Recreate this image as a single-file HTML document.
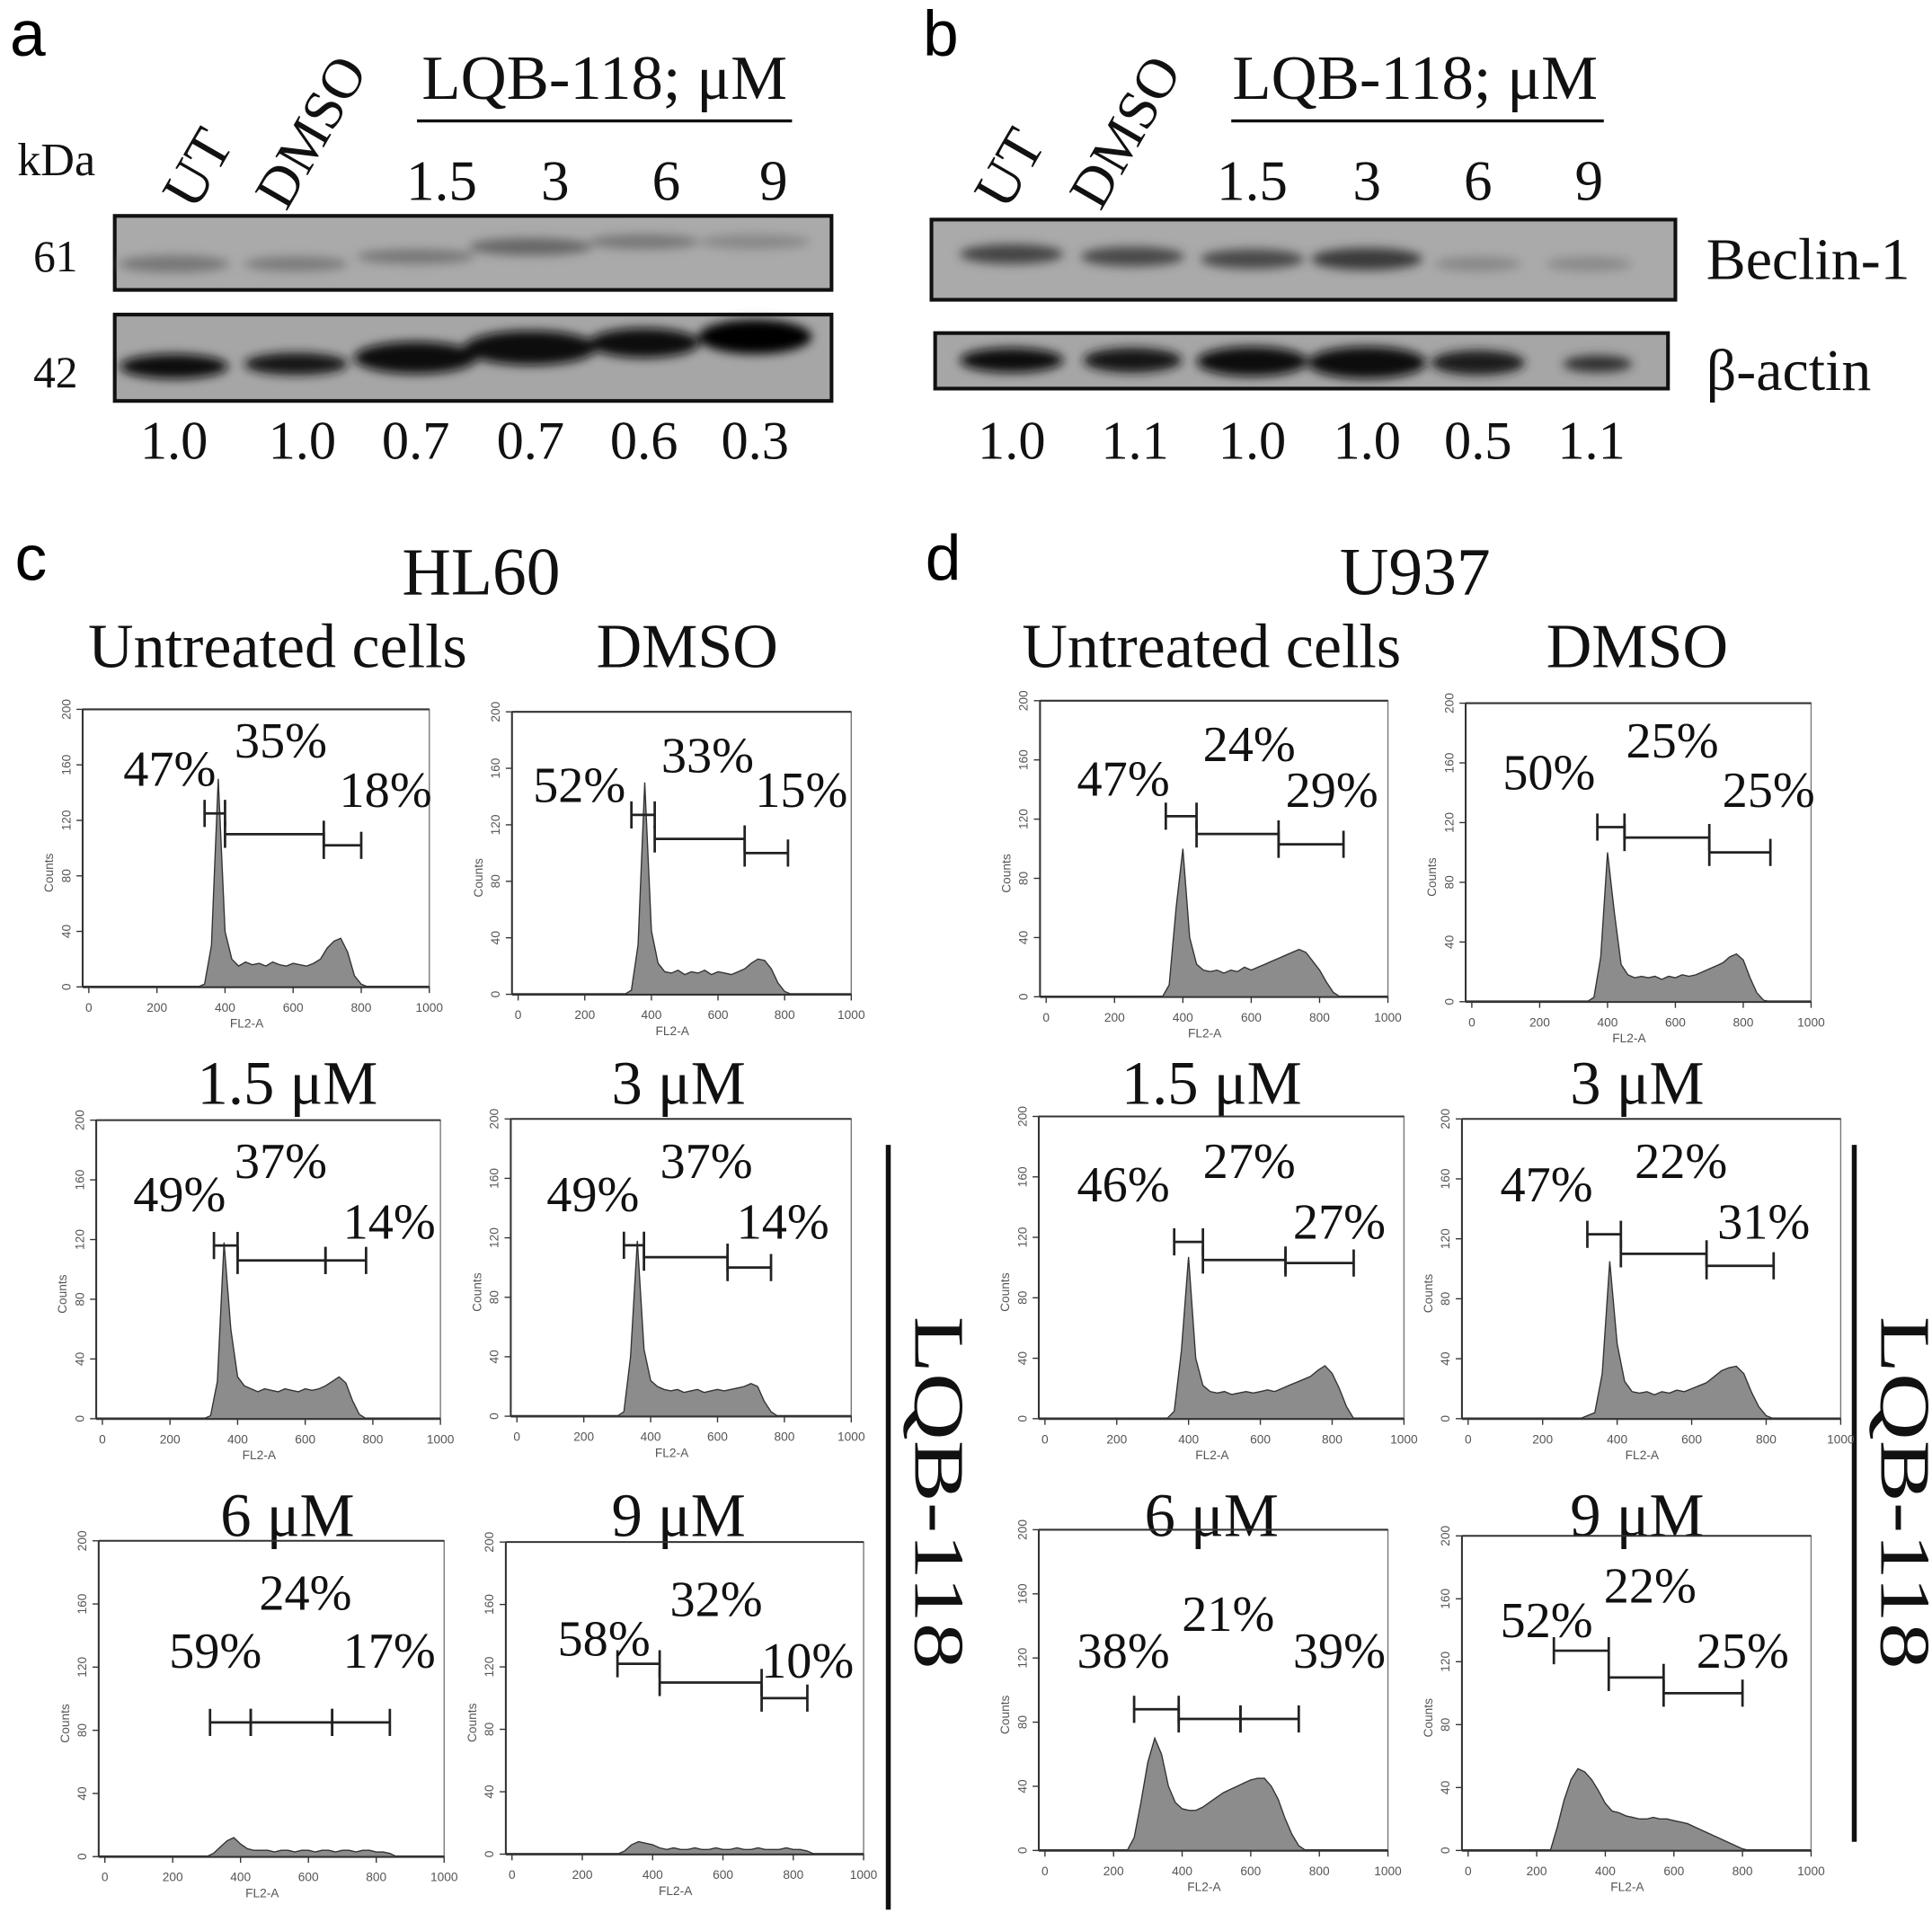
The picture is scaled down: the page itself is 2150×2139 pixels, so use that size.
<!DOCTYPE html>
<html><head><meta charset="utf-8"><style>
html,body{margin:0;padding:0;background:#fff;}
svg{display:block;}
.serif{font-family:"Liberation Serif",serif;fill:#111;}
.sans{font-family:"Liberation Sans",sans-serif;}
.tick{font-family:"Liberation Sans",sans-serif;font-size:10px;fill:#555;}
</style></head><body>
<svg id="fig" width="2150" height="2139" viewBox="0 0 1566 1558" preserveAspectRatio="none" xmlns="http://www.w3.org/2000/svg">
<defs>
<filter id="blur" x="-20%" y="-50%" width="140%" height="200%"><feGaussianBlur stdDeviation="4"/></filter>
</defs>
<text x="8" y="45" class="sans" font-size="52">a</text>
<text x="748" y="45" class="sans" font-size="52">b</text>
<text x="12" y="470" class="sans" font-size="52">c</text>
<text x="750" y="470" class="sans" font-size="52">d</text>

<g>
<text x="14" y="142" class="serif" font-size="38">kDa</text>
<text class="serif" font-size="48" transform="translate(158,172) rotate(-60)">UT</text>
<text class="serif" font-size="46" transform="translate(232,172) rotate(-60)">DMSO</text>
<text x="490" y="80" class="serif" font-size="46" text-anchor="middle" transform="translate(490,80) scale(1.12,1.1) translate(-490,-80)">LQB-118; μM</text>
<line x1="338" y1="98" x2="642" y2="98" stroke="#111" stroke-width="2.5"/>
<g class="serif" font-size="46" text-anchor="middle">
<text x="358" y="162">1.5</text><text x="450" y="162">3</text><text x="540" y="162">6</text><text x="627" y="162">9</text>
</g>
<text x="45" y="220" class="serif" font-size="36" text-anchor="middle">61</text>
<text x="45" y="314" class="serif" font-size="36" text-anchor="middle">42</text>
<rect x="93" y="175" width="581" height="60" fill="#aaa" stroke="#111" stroke-width="3"/>
<rect x="93" y="255" width="581" height="70" fill="#a6a6a6" stroke="#111" stroke-width="3"/>
<g filter="url(#blur)">
<ellipse cx="141" cy="214" rx="45" ry="7" fill="#777"/>
<ellipse cx="240" cy="214" rx="42" ry="6" fill="#7a7a7a"/>
<ellipse cx="337" cy="208" rx="48" ry="6" fill="#777"/>
<ellipse cx="430" cy="200" rx="50" ry="7" fill="#666"/>
<ellipse cx="522" cy="196" rx="45" ry="6" fill="#777"/>
<ellipse cx="612" cy="196" rx="45" ry="6" fill="#888"/>
<ellipse cx="141" cy="297" rx="44" ry="10" fill="#111"/>
<ellipse cx="240" cy="295" rx="42" ry="9" fill="#151515"/>
<ellipse cx="337" cy="290" rx="50" ry="13" fill="#0d0d0d"/>
<ellipse cx="430" cy="282" rx="54" ry="14" fill="#0a0a0a"/>
<ellipse cx="522" cy="278" rx="45" ry="12" fill="#0d0d0d"/>
<ellipse cx="612" cy="273" rx="46" ry="14" fill="#050505"/>
</g>
<g class="serif" font-size="44" text-anchor="middle">
<text x="141" y="372">1.0</text><text x="245" y="372">1.0</text><text x="337" y="372">0.7</text><text x="430" y="372">0.7</text><text x="522" y="372">0.6</text><text x="612" y="372">0.3</text>
</g>
</g>

<g>
<text class="serif" font-size="48" transform="translate(816,172) rotate(-60)">UT</text>
<text class="serif" font-size="46" transform="translate(892,172) rotate(-60)">DMSO</text>
<text x="1147" y="80" class="serif" font-size="46" text-anchor="middle" transform="translate(1147,80) scale(1.12,1.1) translate(-1147,-80)">LQB-118; μM</text>
<line x1="998" y1="98" x2="1300" y2="98" stroke="#111" stroke-width="2.5"/>
<g class="serif" font-size="46" text-anchor="middle">
<text x="1015" y="162">1.5</text><text x="1108" y="162">3</text><text x="1198" y="162">6</text><text x="1288" y="162">9</text>
</g>
<rect x="755" y="178" width="603" height="65" fill="#aaa" stroke="#111" stroke-width="3"/>
<rect x="758" y="270" width="594" height="45" fill="#a6a6a6" stroke="#111" stroke-width="3"/>
<g filter="url(#blur)">
<ellipse cx="820" cy="206" rx="42" ry="8" fill="#444"/>
<ellipse cx="918" cy="208" rx="42" ry="8" fill="#4a4a4a"/>
<ellipse cx="1015" cy="210" rx="42" ry="8" fill="#4a4a4a"/>
<ellipse cx="1108" cy="210" rx="45" ry="9" fill="#3a3a3a"/>
<ellipse cx="1198" cy="214" rx="35" ry="6" fill="#888"/>
<ellipse cx="1288" cy="214" rx="35" ry="6" fill="#8a8a8a"/>
<ellipse cx="820" cy="292" rx="42" ry="10" fill="#111"/>
<ellipse cx="918" cy="292" rx="40" ry="10" fill="#151515"/>
<ellipse cx="1015" cy="293" rx="45" ry="12" fill="#0d0d0d"/>
<ellipse cx="1108" cy="294" rx="48" ry="13" fill="#0a0a0a"/>
<ellipse cx="1198" cy="294" rx="38" ry="10" fill="#1a1a1a"/>
<ellipse cx="1295" cy="295" rx="28" ry="7" fill="#333"/>
</g>
<text x="1383" y="226" class="serif" font-size="48">Beclin-1</text>
<text x="1383" y="316" class="serif" font-size="48">β-actin</text>
<g class="serif" font-size="44" text-anchor="middle">
<text x="820" y="372">1.0</text><text x="920" y="372">1.1</text><text x="1015" y="372">1.0</text><text x="1108" y="372">1.0</text><text x="1198" y="372">0.5</text><text x="1290" y="372">1.1</text>
</g>
</g>

<g class="serif" text-anchor="middle">
<text x="390" y="482" font-size="55">HL60</text>
<text x="1147" y="482" font-size="55">U937</text>
<text x="225" y="541" font-size="51">Untreated cells</text>
<text x="557" y="541" font-size="51">DMSO</text>
<text x="982" y="541" font-size="51">Untreated cells</text>
<text x="1327" y="541" font-size="51">DMSO</text>
<text x="233" y="895" font-size="50">1.5 μM</text>
<text x="550" y="895" font-size="50">3 μM</text>
<text x="982" y="895" font-size="50">1.5 μM</text>
<text x="1327" y="895" font-size="50">3 μM</text>
<text x="233" y="1245" font-size="50">6 μM</text>
<text x="550" y="1245" font-size="50">9 μM</text>
<text x="982" y="1245" font-size="50">6 μM</text>
<text x="1327" y="1245" font-size="50">9 μM</text>
</g>
<line x1="720" y1="928" x2="720" y2="1548" stroke="#111" stroke-width="4"/>
<text class="serif" font-size="58" text-anchor="middle" transform="translate(742,1210) rotate(90) scale(1.3,1)">LQB-118</text>
<line x1="1503" y1="928" x2="1503" y2="1493" stroke="#111" stroke-width="4"/>
<text class="serif" font-size="58" text-anchor="middle" transform="translate(1525,1210) rotate(90) scale(1.3,1)">LQB-118</text>
<g id="hists"></g>
</svg>
<script>
const bins = [240,260,280,300,320,340,360,380,400,420,440,460,480,500,520,540,560,580,600,620,640,660,680,700,720,740,760,780,800,820,840,860,880,900];
const xTicks = [0,200,400,600,800,1000];
const yTicks = [0,40,80,120,160,200];
const countsHL60UT   = [0,0,0,0,0,2,30,150,40,20,15,18,16,17,15,18,16,15,17,16,15,17,20,28,33,35,25,8,2,0,0,0,0,0];
const countsHL60DMSO = [0,0,0,0,0,3,35,150,45,22,16,15,17,14,16,15,17,14,16,15,14,16,18,22,25,24,18,8,2,0,0,0,0,0];
const countsU937UT   = [0,0,0,0,0,0,8,60,100,40,22,18,17,18,16,18,17,20,18,20,22,24,26,28,30,32,30,24,18,10,3,0,0,0];
const countsU937DMSO = [0,0,0,0,0,0,3,30,100,60,25,18,16,17,16,17,15,17,16,18,17,18,20,22,24,26,30,32,28,16,6,1,0,0];
const countsHL60_1_5 = [0,0,0,0,2,25,118,60,28,22,20,18,20,19,18,20,19,18,20,19,20,22,25,28,24,12,3,0,0,0,0,0,0,0];
const countsHL60_3   = [0,0,0,0,3,40,118,45,24,20,18,17,18,16,17,18,16,17,18,17,18,19,20,22,20,10,3,0,0,0,0,0,0,0];
const countsU937_1_5 = [0,0,0,0,0,0,5,45,107,40,22,18,17,18,16,17,18,17,18,19,18,20,22,24,26,28,32,35,30,20,8,0,0,0];
const countsU937_3   = [0,0,0,0,2,4,30,105,50,25,18,17,18,16,18,17,19,18,20,22,24,28,32,34,35,30,18,8,2,0,0,0,0,0];
const countsHL60_6   = [0,0,0,0,2,6,10,12,8,5,4,4,4,3,4,4,3,4,4,3,4,4,3,4,4,3,4,4,3,3,2,0,0,0];
const countsHL60_9   = [0,0,0,0,2,6,8,7,6,4,3,4,3,3,4,3,3,4,3,3,4,3,3,4,3,3,3,4,3,3,2,0,0,0];
const countsU937_6   = [0,8,30,55,70,60,40,30,26,25,25,27,30,33,36,38,40,42,44,45,45,40,32,20,10,3,0,0,0,0,0,0,0,0];
const countsU937_9   = [0,15,32,45,52,50,45,38,30,25,24,22,21,20,20,21,20,20,19,18,17,15,13,11,9,7,5,3,1,0,0,0,0,0];
const gatesHL60UT   = [[340,400,125],[400,690,110],[690,800,102]];
const gatesHL60DMSO = [[340,410,127],[410,680,110],[680,810,100]];
const gatesU937UT   = [[350,440,122],[440,680,110],[680,870,103]];
const gatesU937DMSO = [[370,450,117],[450,700,110],[700,880,100]];
const gatesHL60_1_5 = [[330,400,116],[400,660,106],[660,780,106]];
const gatesHL60_3   = [[320,380,115],[380,630,107],[630,760,100]];
const gatesU937_1_5 = [[360,440,117],[440,670,105],[670,860,103]];
const gatesU937_3   = [[320,410,123],[410,640,110],[640,820,102]];
const gatesHL60_6   = [[310,430,85],[430,670,85],[670,840,85]];
const gatesHL60_9   = [[300,420,122],[420,710,110],[710,840,100]];
const gatesU937_6   = [[260,390,88],[390,570,82],[570,740,82]];
const gatesU937_9   = [[250,410,127],[410,570,110],[570,800,100]];
const pctHL60UT   = ["47%","35%","18%"];
const pctHL60DMSO = ["52%","33%","15%"];
const pctU937UT   = ["47%","24%","29%"];
const pctU937DMSO = ["50%","25%","25%"];
const pctHL60_1_5 = ["49%","37%","14%"];
const pctHL60_3   = ["49%","37%","14%"];
const pctU937_1_5 = ["46%","27%","27%"];
const pctU937_3   = ["47%","22%","31%"];
const pctHL60_6   = ["59%","24%","17%"];
const pctHL60_9   = ["58%","32%","10%"];
const pctU937_6   = ["38%","21%","39%"];
const pctU937_9   = ["52%","22%","25%"];

const NS="http://www.w3.org/2000/svg";
const root=document.getElementById('hists');
function mk(tag,attrs,parent){const e=document.createElementNS(NS,tag);for(const k in attrs)e.setAttribute(k,attrs[k]);parent.appendChild(e);return e;}

const panels=[
 {name:'hl60-untreated',L:67,T:575,R:348,B:800,c:countsHL60UT,g:gatesHL60UT,p:pctHL60UT,pp:[[100,637],[190,614],[275,654]]},
 {name:'hl60-dmso',L:415,T:577,R:690,B:806,c:countsHL60DMSO,g:gatesHL60DMSO,p:pctHL60DMSO,pp:[[432,650],[536,626],[612,654]]},
 {name:'u937-untreated',L:843,T:568,R:1125,B:808,c:countsU937UT,g:gatesU937UT,p:pctU937UT,pp:[[873,645],[975,617],[1042,654]]},
 {name:'u937-dmso',L:1188,T:570,R:1468,B:812,c:countsU937DMSO,g:gatesU937DMSO,p:pctU937DMSO,pp:[[1218,640],[1318,614],[1396,654]]},
 {name:'hl60-1-5um',L:78,T:908,R:357,B:1150,c:countsHL60_1_5,g:gatesHL60_1_5,p:pctHL60_1_5,pp:[[108,982],[190,955],[278,1004]]},
 {name:'hl60-3um',L:414,T:907,R:690,B:1148,c:countsHL60_3,g:gatesHL60_3,p:pctHL60_3,pp:[[443,982],[535,955],[597,1004]]},
 {name:'u937-1-5um',L:842,T:905,R:1138,B:1150,c:countsU937_1_5,g:gatesU937_1_5,p:pctU937_1_5,pp:[[873,974],[975,955],[1048,1004]]},
 {name:'u937-3um',L:1185,T:907,R:1492,B:1150,c:countsU937_3,g:gatesU937_3,p:pctU937_3,pp:[[1216,974],[1325,955],[1392,1004]]},
 {name:'hl60-6um',L:80,T:1249,R:360,B:1505,c:countsHL60_6,g:gatesHL60_6,p:pctHL60_6,pp:[[137,1352],[210,1305],[278,1352]]},
 {name:'hl60-9um',L:410,T:1250,R:700,B:1503,c:countsHL60_9,g:gatesHL60_9,p:pctHL60_9,pp:[[452,1342],[543,1310],[617,1360]]},
 {name:'u937-6um',L:842,T:1240,R:1125,B:1500,c:countsU937_6,g:gatesU937_6,p:pctU937_6,pp:[[873,1352],[958,1322],[1048,1352]]},
 {name:'u937-9um',L:1185,T:1245,R:1468,B:1500,c:countsU937_9,g:gatesU937_9,p:pctU937_9,pp:[[1216,1327],[1300,1299],[1375,1352]]}
];

panels.forEach(P=>{
 const g=mk('g',{},root);
 
 
 const x0=P.L+5, x1=P.R;
 const xs=v=>x0+(v/1000)*(x1-x0);
 const ys=v=>P.B-(v/200)*(P.B-P.T);
 mk('rect',{x:P.L,y:P.T,width:P.R-P.L,height:P.B-P.T,fill:'none',stroke:'#777','stroke-width':1},g);
 mk('line',{x1:P.L,y1:P.T,x2:P.R,y2:P.T,stroke:'#333','stroke-width':1.5},g);
 mk('line',{x1:P.L,y1:P.B,x2:P.R,y2:P.B,stroke:'#333','stroke-width':2},g);
 mk('line',{x1:P.L,y1:P.T,x2:P.L,y2:P.B,stroke:'#333','stroke-width':1.5},g);
 let d='M'+xs(bins[0]).toFixed(1)+','+ys(0);
 bins.forEach((b,i)=>{d+=' L'+xs(b).toFixed(1)+','+ys(P.c[i]).toFixed(1);});
 d+=' L'+xs(bins[bins.length-1]).toFixed(1)+','+ys(0)+' Z';
 const h=mk('path',{d:d,fill:'#8c8c8c',stroke:'#333','stroke-width':1},g);
 
 
 xTicks.forEach(t=>{
  mk('line',{x1:xs(t),y1:P.B,x2:xs(t),y2:P.B+5,stroke:'#333','stroke-width':1},g);
  const tx=mk('text',{x:xs(t),y:P.B+20,'text-anchor':'middle',class:'tick'},g);tx.textContent=t;
 });
 yTicks.forEach(t=>{
  mk('line',{x1:P.L-5,y1:ys(t),x2:P.L,y2:ys(t),stroke:'#333','stroke-width':1},g);
  const tx=mk('text',{class:'tick','text-anchor':'middle',transform:'translate('+(P.L-10)+','+ys(t)+') rotate(-90)'},g);tx.textContent=t;
 });
 const xl=mk('text',{x:(x0+x1)/2-10,y:P.B+33,'text-anchor':'middle',class:'tick'},g);xl.textContent='FL2-A';
 const yl=mk('text',{class:'tick','text-anchor':'middle',transform:'translate('+(P.L-24)+','+((P.T+P.B)/2+20)+') rotate(-90)'},g);yl.textContent='Counts';
 P.g.forEach((gt,i)=>{
  const gl=mk('g',{},g);
  
  
  const y=ys(gt[2]);
  mk('line',{x1:xs(gt[0]),y1:y,x2:xs(gt[1]),y2:y,stroke:'#222','stroke-width':2},gl);
  mk('line',{x1:xs(gt[0]),y1:y-11,x2:xs(gt[0]),y2:y+11,stroke:'#222','stroke-width':2},gl);
  mk('line',{x1:xs(gt[1]),y1:y-11,x2:xs(gt[1]),y2:y+11,stroke:'#222','stroke-width':2},gl);
 });
 P.p.forEach((s,i)=>{
  const t=mk('text',{x:P.pp[i][0],y:P.pp[i][1],class:'serif','font-size':'41'},g);
  
  
  t.textContent=s;
 });
});
</script>
</body></html>
